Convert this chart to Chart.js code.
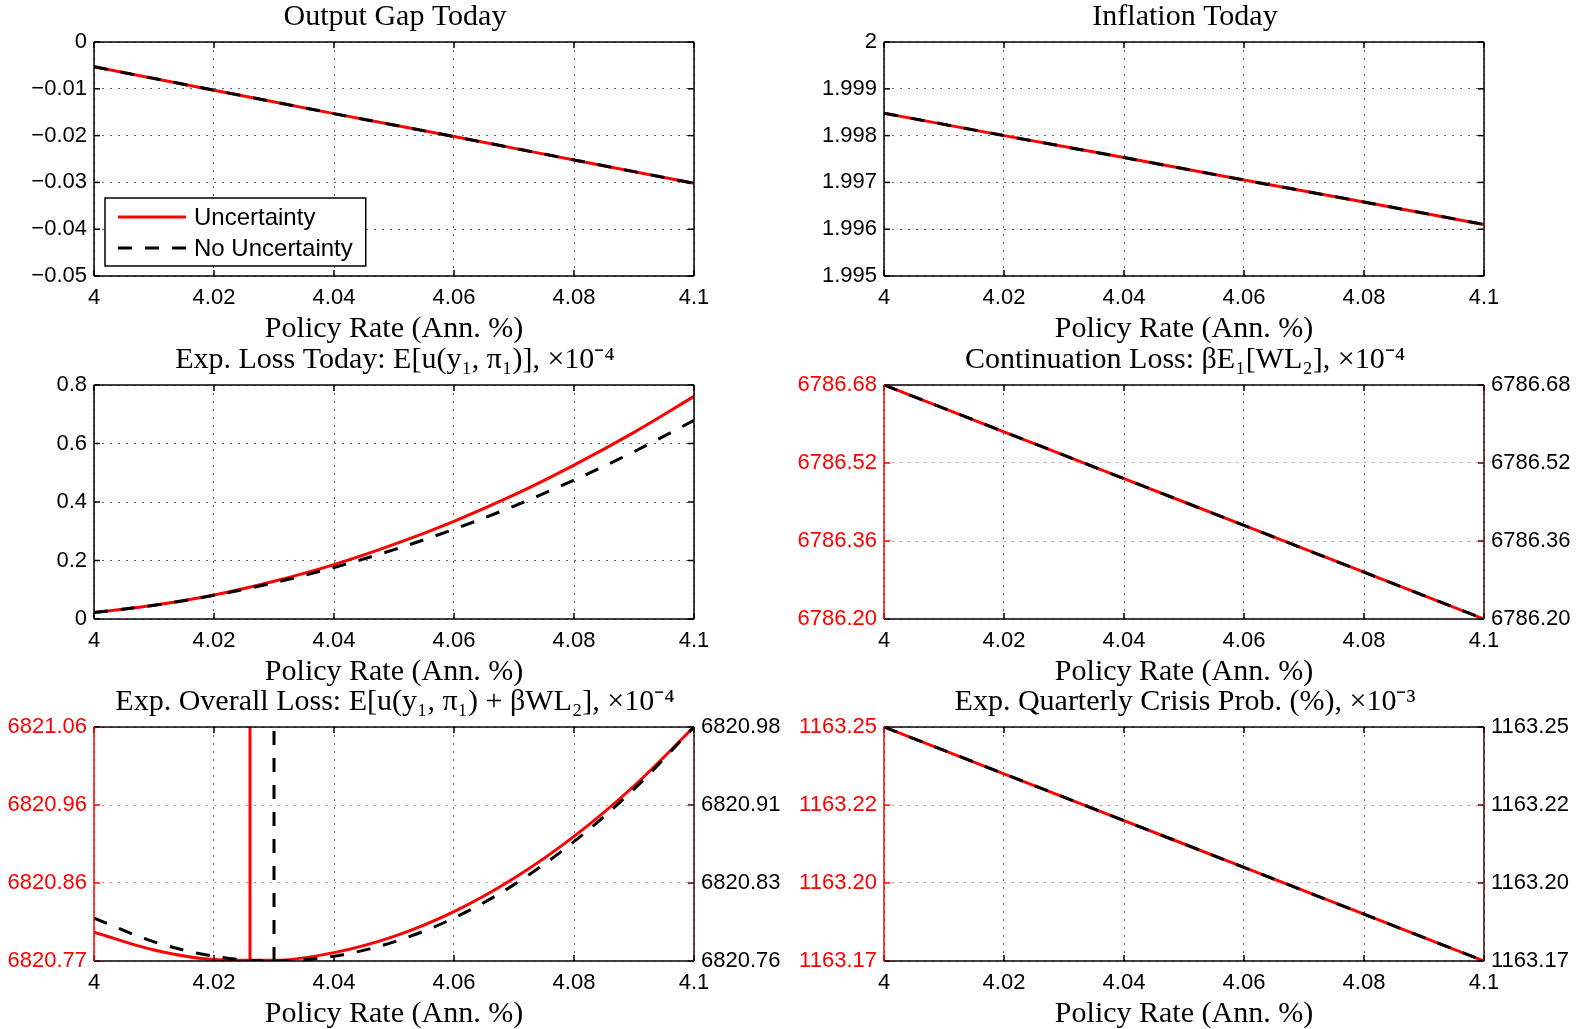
<!DOCTYPE html>
<html>
<head>
<meta charset="utf-8">
<script src="https://cdn.jsdelivr.net/npm/chart.js@4.4.1/dist/chart.umd.min.js"></script>
<style>
  html, body { margin: 0; padding: 0; background: #fff; width: 1586px; height: 1029px; overflow: hidden; }
  .panel { position: absolute; width: 790px; height: 350px; }
</style>
</head>
<body>
<div class="panel" style="left:0px;top:-2px"><canvas id="outputGap"></canvas></div>
<div class="panel" style="left:790px;top:-2px"><canvas id="inflation"></canvas></div>
<div class="panel" style="left:0px;top:341px"><canvas id="lossToday"></canvas></div>
<div class="panel" style="left:790px;top:341px"><canvas id="contLoss"></canvas></div>
<div class="panel" style="left:0px;top:683px"><canvas id="overallLoss"></canvas></div>
<div class="panel" style="left:790px;top:683px"><canvas id="crisisProb"></canvas></div>
<script>
// ---------------- data ----------------
const rateCoarse = [4, 4.02, 4.04, 4.06, 4.08, 4.1];
const rateFine = [4, 4.01, 4.02, 4.03, 4.04, 4.05, 4.06, 4.07, 4.08, 4.09, 4.1];
const xTicks = [4, 4.02, 4.04, 4.06, 4.08, 4.1];

// Output gap today
const outputGapUnc = [-0.0053, -0.0103, -0.0153, -0.0202, -0.0252, -0.0302];
const outputGapNoUnc = [-0.0053, -0.0103, -0.0153, -0.0202, -0.0252, -0.0302];
const outputGapTicks = [-0.05, -0.04, -0.03, -0.02, -0.01, 0];

// Inflation today
const inflationUnc = [1.99848, 1.99800, 1.99753, 1.99705, 1.99658, 1.99610];
const inflationNoUnc = [1.99848, 1.99800, 1.99753, 1.99705, 1.99658, 1.99610];
const inflationTicks = [1.995, 1.996, 1.997, 1.998, 1.999, 2];

// Exp. loss today (x1e-4)
const lossTodayUnc = [0.022, 0.047, 0.082, 0.129, 0.186, 0.255, 0.334, 0.424, 0.526, 0.638, 0.761];
const lossTodayNoUnc = [0.022, 0.047, 0.081, 0.124, 0.176, 0.237, 0.307, 0.386, 0.475, 0.572, 0.679];
const lossTodayTicks = [0, 0.2, 0.4, 0.6, 0.8];

// Continuation loss (x1e-4)
const contLossUnc = [6786.68, 6786.584, 6786.488, 6786.392, 6786.296, 6786.20];
const contLossNoUnc = [6786.68, 6786.584, 6786.488, 6786.392, 6786.296, 6786.20];
const contLossTicks = [6786.20, 6786.36, 6786.52, 6786.68];

// Exp. overall loss (x1e-4), two y axes
const overallUnc = [6820.8018, 6820.7796, 6820.7679, 6820.7668, 6820.7764, 6820.7965, 6820.8272, 6820.8685, 6820.9204, 6820.9829, 6821.0560];
const overallNoUnc = [6820.8004, 6820.7780, 6820.7645, 6820.7600, 6820.7645, 6820.7780, 6820.8004, 6820.8318, 6820.8722, 6820.9216, 6820.9800];
const overallTicksLeft = [6820.766, 6820.8627, 6820.9593, 6821.056];
const overallTicksRight = [6820.76, 6820.8333, 6820.9067, 6820.98];
const minRateUnc = 4.026;
const minRateNoUnc = 4.03;

// Exp. quarterly crisis prob. (x1e-3)
const crisisUnc = [1163.25, 1163.234, 1163.218, 1163.202, 1163.186, 1163.17];
const crisisNoUnc = [1163.25, 1163.234, 1163.218, 1163.202, 1163.186, 1163.17];
const crisisTicks = [1163.17, 1163.1967, 1163.2233, 1163.25];

// ---------------- style ----------------
const RED = '#ff0000';
const DARK = '#4a0000';
const GRID_BLACK = 'rgba(0,0,0,0.6)';
const GRID_RED = 'rgba(255,0,0,0.5)';
const SANS = "'Liberation Sans', Arial, sans-serif";
const SERIF = "'Liberation Serif', 'Times New Roman', serif";
const TICK_FONT = { family: SANS, size: 22 };
const L = 94, R = 96, B = 72;
const xLabel = 'Policy Rate (Ann. %)';

function toPoints(xs, ys) {
    return xs.map((x, i) => ({ x: x, y: ys[i] }));
}
function fixedTicks(values) {
    return function (scale) { scale.ticks = values.map(v => ({ value: v })); };
}
function trimNum(v, d) {
    return String(parseFloat(v.toFixed(d))).replace('-', '\u2212');
}

// axes box + inward ticks, matlab style
const matlabAxes = {
    id: 'matlabAxes',
    afterDatasetsDraw(chart, args, opts) {
        const { ctx, chartArea: a, scales } = chart;
        const tl = 6;
        ctx.save();
        ctx.lineWidth = 1.5;
        ctx.setLineDash([]);
        const seg = (x1, y1, x2, y2, c) => {
            ctx.strokeStyle = c;
            ctx.beginPath(); ctx.moveTo(x1, y1); ctx.lineTo(x2, y2); ctx.stroke();
        };
        scales.x.ticks.forEach(t => {
            const px = scales.x.getPixelForValue(t.value);
            seg(px, a.bottom, px, a.bottom - tl, '#000');
            seg(px, a.top, px, a.top + tl, '#000');
        });
        scales.y.ticks.forEach(t => {
            const py = scales.y.getPixelForValue(t.value);
            seg(a.left, py, a.left + tl, py, opts.leftColor);
            if (!opts.plotyy) seg(a.right, py, a.right - tl, py, '#000');
        });
        if (opts.plotyy) {
            scales.y2.ticks.forEach(t => {
                const py = scales.y2.getPixelForValue(t.value);
                seg(a.right, py, a.right - tl, py, opts.rightColor);
            });
        }
        seg(a.left, a.top, a.right, a.top, '#000');
        seg(a.left, a.bottom, a.right, a.bottom, '#000');
        seg(a.left, a.top, a.left, a.bottom, opts.leftColor);
        seg(a.right, a.top, a.right, a.bottom, opts.rightColor);
        ctx.restore();
    }
};

// boxed legend inside the plot, lower left
const boxLegend = {
    id: 'boxLegend',
    afterDraw(chart, args, opts) {
        if (!opts.display) return;
        const { ctx, chartArea: a } = chart;
        const ds = chart.data.datasets.filter(d => d.label);
        ctx.save();
        ctx.font = '24px ' + SANS;
        const textW = Math.max(...ds.map(d => ctx.measureText(d.label).width));
        const sample = 68, rowH = 31, h = 68;
        const w = 13 + sample + 8 + textW + 13;
        const left = a.left + 11, top = a.bottom - 10 - h;
        ctx.fillStyle = '#fff';
        ctx.fillRect(left, top, w, h);
        ctx.strokeStyle = '#000';
        ctx.lineWidth = 1.5;
        ctx.strokeRect(left, top, w, h);
        ds.forEach((d, i) => {
            const cy = top + 19 + i * rowH;
            ctx.beginPath();
            ctx.setLineDash(d.borderDash || []);
            ctx.strokeStyle = d.borderColor;
            ctx.lineWidth = d.borderWidth;
            ctx.moveTo(left + 13, cy);
            ctx.lineTo(left + 13 + sample, cy);
            ctx.stroke();
            ctx.setLineDash([]);
            ctx.fillStyle = '#000';
            ctx.textBaseline = 'middle';
            ctx.fillText(d.label, left + 13 + sample + 8, cy + 1);
        });
        ctx.restore();
    }
};

function solidLine(label, xs, ys, axis) {
    return {
        label: label, data: toPoints(xs, ys), yAxisID: axis || 'y',
        borderColor: RED, borderWidth: 3, pointRadius: 0, fill: false,
        cubicInterpolationMode: 'monotone', order: 2
    };
}
function dashedLine(label, xs, ys, axis) {
    return {
        label: label, data: toPoints(xs, ys), yAxisID: axis || 'y',
        borderColor: '#000', borderWidth: 3, borderDash: [14, 13], pointRadius: 0, fill: false,
        cubicInterpolationMode: 'monotone', order: 1
    };
}

function makePanel(canvasId, cfg) {
    const yTicks = cfg.yTicks;
    const y2Ticks = cfg.y2Ticks || cfg.yTicks;
    const ctx = document.getElementById(canvasId).getContext('2d');
    return new Chart(ctx, {
        type: 'line',
        data: { datasets: cfg.datasets },
        plugins: [matlabAxes, boxLegend],
        options: {
            responsive: true,
            maintainAspectRatio: false,
            animation: false,
            layout: { padding: 0 },
            scales: {
                x: {
                    type: 'linear',
                    min: xTicks[0], max: xTicks[xTicks.length - 1],
                    afterBuildTicks: fixedTicks(xTicks),
                    afterFit: function (s) { s.height = B; },
                    grid: { color: GRID_BLACK, lineWidth: 1, drawTicks: false },
                    border: { display: false, dash: [2, 6] },
                    ticks: {
                        font: TICK_FONT, color: '#000', padding: 9, maxRotation: 0, autoSkip: false,
                        callback: v => trimNum(v, 2)
                    },
                    title: {
                        display: true, text: xLabel, color: '#000', padding: 0,
                        font: { family: SERIF, size: 30, lineHeight: '38px' }
                    }
                },
                y: {
                    position: 'left',
                    min: yTicks[0], max: yTicks[yTicks.length - 1],
                    afterBuildTicks: fixedTicks(yTicks),
                    afterFit: function (s) { s.width = L; },
                    grid: { color: cfg.plotyy ? GRID_RED : GRID_BLACK, lineWidth: 1, drawTicks: false },
                    border: { display: false, dash: [2, 6] },
                    ticks: {
                        font: TICK_FONT, color: cfg.plotyy ? RED : '#000', padding: 7, autoSkip: false,
                        callback: cfg.yFormat
                    }
                },
                y2: {
                    position: 'right',
                    min: y2Ticks[0], max: y2Ticks[y2Ticks.length - 1],
                    afterBuildTicks: fixedTicks(y2Ticks),
                    afterFit: function (s) { s.width = R; },
                    grid: { display: false, drawTicks: false },
                    border: { display: false },
                    ticks: {
                        display: !!cfg.plotyy, font: TICK_FONT, color: '#000', padding: 7, autoSkip: false,
                        callback: cfg.yFormat
                    }
                }
            },
            plugins: {
                legend: { display: false },
                tooltip: { enabled: false },
                title: {
                    display: true, text: cfg.title, color: '#000',
                    font: { family: SERIF, size: 30, weight: 'normal', lineHeight: '34px' },
                    padding: { top: 2, bottom: 8 }
                },
                matlabAxes: {
                    plotyy: !!cfg.plotyy,
                    leftColor: cfg.plotyy ? RED : '#000',
                    rightColor: cfg.plotyy ? DARK : '#000'
                },
                boxLegend: { display: !!cfg.legend }
            }
        }
    });
}

const fixed2 = v => v.toFixed(2);

makePanel('outputGap', {
    title: 'Output Gap Today',
    yTicks: outputGapTicks,
    yFormat: v => trimNum(v, 2),
    legend: true,
    datasets: [
        solidLine('Uncertainty', rateCoarse, outputGapUnc),
        dashedLine('No Uncertainty', rateCoarse, outputGapNoUnc)
    ]
});

makePanel('inflation', {
    title: 'Inflation Today',
    yTicks: inflationTicks,
    yFormat: v => trimNum(v, 3),
    datasets: [
        solidLine('Uncertainty', rateCoarse, inflationUnc),
        dashedLine('No Uncertainty', rateCoarse, inflationNoUnc)
    ]
});

makePanel('lossToday', {
    title: 'Exp. Loss Today: E[u(y\u2081, \u03c0\u2081)], \u00d710\u207b\u2074',
    yTicks: lossTodayTicks,
    yFormat: v => trimNum(v, 1),
    datasets: [
        solidLine('Uncertainty', rateFine, lossTodayUnc),
        dashedLine('No Uncertainty', rateFine, lossTodayNoUnc)
    ]
});

makePanel('contLoss', {
    title: 'Continuation Loss: \u03b2E\u2081[WL\u2082], \u00d710\u207b\u2074',
    yTicks: contLossTicks,
    yFormat: fixed2,
    plotyy: true,
    datasets: [
        solidLine('Uncertainty', rateCoarse, contLossUnc),
        dashedLine('No Uncertainty', rateCoarse, contLossNoUnc)
    ]
});

makePanel('overallLoss', {
    title: 'Exp. Overall Loss: E[u(y\u2081, \u03c0\u2081) + \u03b2WL\u2082], \u00d710\u207b\u2074',
    yTicks: overallTicksLeft,
    y2Ticks: overallTicksRight,
    yFormat: fixed2,
    plotyy: true,
    datasets: [
        solidLine('Uncertainty', rateFine, overallUnc, 'y'),
        dashedLine('No Uncertainty', rateFine, overallNoUnc, 'y2'),
        Object.assign(solidLine('', [minRateUnc, minRateUnc],
            [overallTicksLeft[0], overallTicksLeft[overallTicksLeft.length - 1]], 'y'), { cubicInterpolationMode: 'default' }),
        Object.assign(dashedLine('', [minRateNoUnc, minRateNoUnc],
            [overallTicksRight[0], overallTicksRight[overallTicksRight.length - 1]], 'y2'), { cubicInterpolationMode: 'default' })
    ]
});

makePanel('crisisProb', {
    title: 'Exp. Quarterly Crisis Prob. (%), \u00d710\u207b\u00b3',
    yTicks: crisisTicks,
    yFormat: fixed2,
    plotyy: true,
    datasets: [
        solidLine('Uncertainty', rateCoarse, crisisUnc),
        dashedLine('No Uncertainty', rateCoarse, crisisNoUnc)
    ]
});
</script>
</body>
</html>
